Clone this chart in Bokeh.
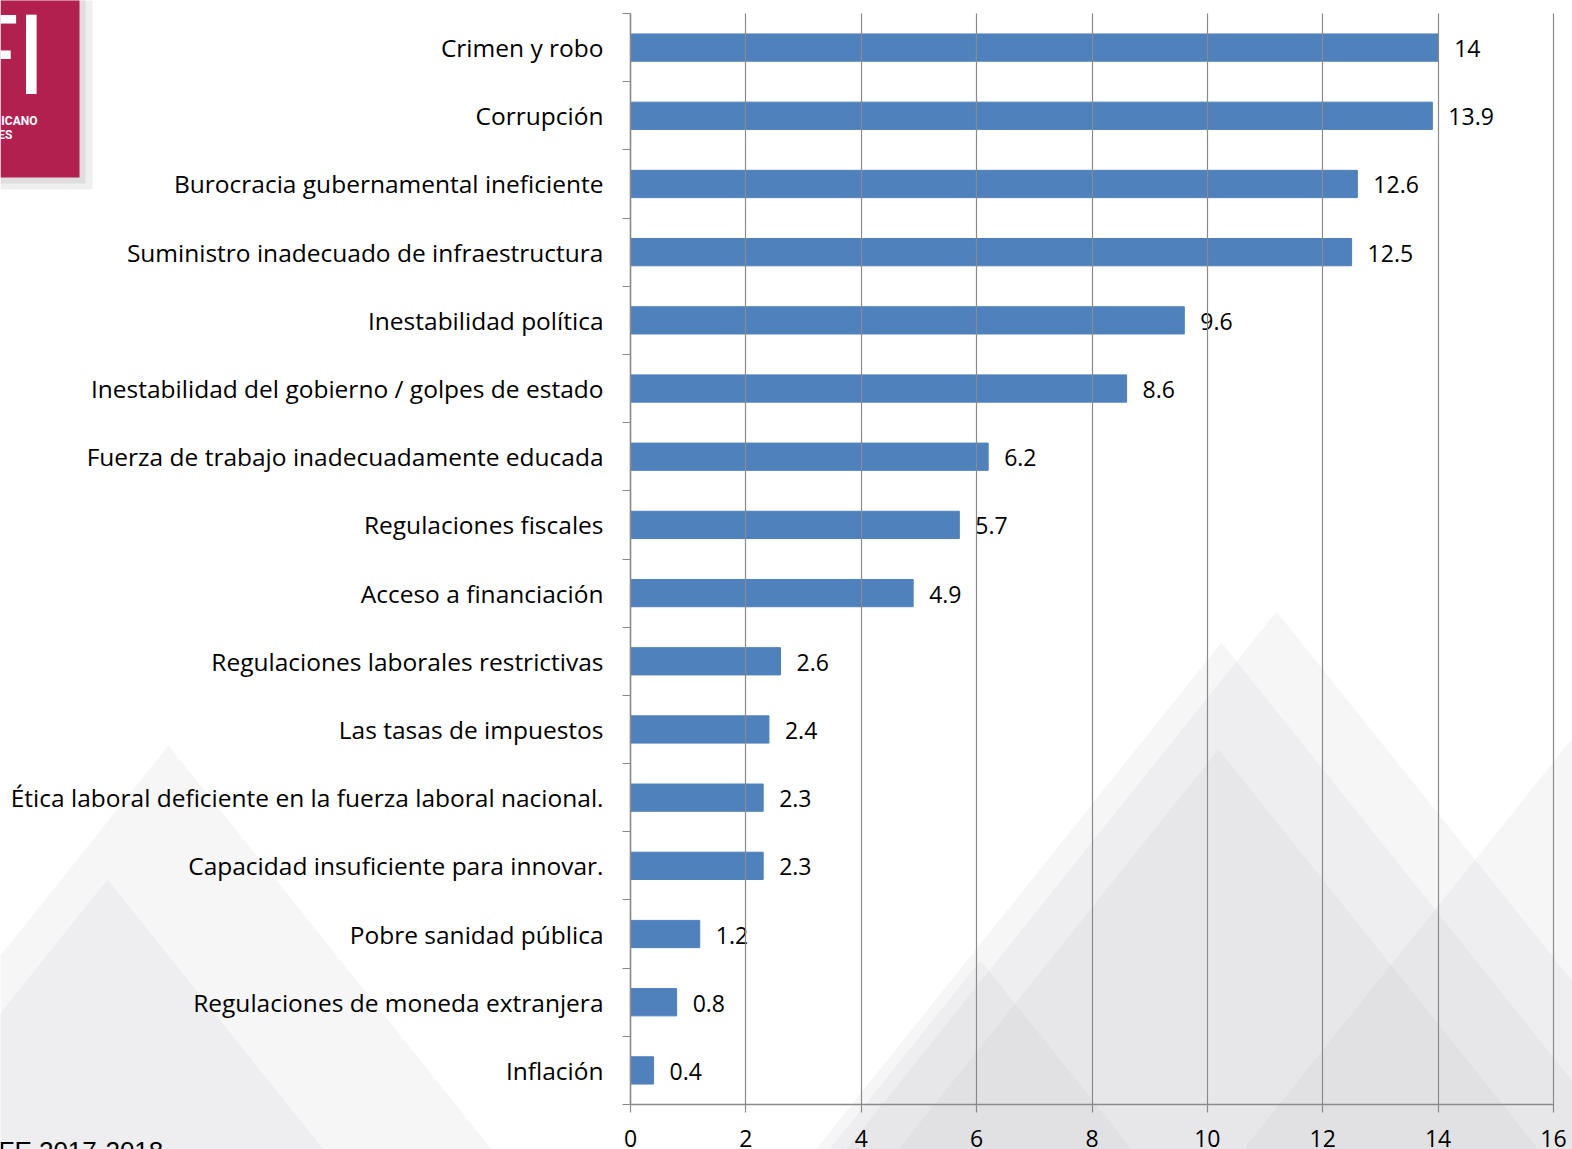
from bokeh.plotting import figure
from bokeh.models import (ColumnDataSource, FixedTicker, Label, BoxAnnotation,
                          PolyAnnotation, Range1d)
from bokeh.core.properties import value
from bokeh.embed import file_html
from bokeh.resources import INLINE

categories = [
    "Crimen y robo",
    "Corrupción",
    "Burocracia gubernamental ineficiente",
    "Suministro inadecuado de infraestructura",
    "Inestabilidad política",
    "Inestabilidad del gobierno / golpes de estado",
    "Fuerza de trabajo inadecuadamente educada",
    "Regulaciones fiscales",
    "Acceso a financiación",
    "Regulaciones laborales restrictivas",
    "Las tasas de impuestos",
    "Ética laboral deficiente en la fuerza laboral nacional.",
    "Capacidad insuficiente para innovar.",
    "Pobre sanidad pública",
    "Regulaciones de moneda extranjera",
    "Inflación",
]
values = [14, 13.9, 12.6, 12.5, 9.6, 8.6, 6.2, 5.7, 4.9, 2.6, 2.4, 2.3, 2.3, 1.2, 0.8, 0.4]
x_ticks = [0, 2, 4, 6, 8, 10, 12, 14, 16]
source_text = "FE 2017-2018"

n = len(categories)
ys = [n - i - 0.5 for i in range(n)]
src = ColumnDataSource(dict(y=ys, v=values, lbl=[f"{v:g}" for v in values]))

# page geometry (pixels): the data area spans 630..1553 horizontally, 13..1104 vertically
W, H = 1572, 1149
PX_L, PX_R, PX_T, PX_B = 630, 1553, 13, 1104
XMAX = x_ticks[-1]
ux = (PX_R - PX_L) / XMAX
uy = (PX_B - PX_T) / n
x_range = Range1d(-PX_L / ux, (W - PX_L) / ux)
y_range = Range1d(-(H - PX_B) / uy, n + PX_T / uy)

FONT = "Open Sans"
GRAY = "#8a8a8a"

p = figure(width=W, height=H, x_range=x_range, y_range=y_range, title=None,
           output_backend="svg", toolbar_location=None,
           min_border_left=0, min_border_right=0, min_border_top=0, min_border_bottom=0)
p.outline_line_color = None
p.background_fill_color = "white"
p.border_fill_color = "white"
p.xgrid.visible = False
p.ygrid.visible = False

# faint decorative backdrop: translucent grey "mountain" triangles (page pixels, peak x/y)
backdrop_peaks = [(168, 745), (107, 879), (1276, 611), (1221, 642), (1218, 749),
                  (1650, 640), (980, 960)]
for bx, by in backdrop_peaks:
    half = (H - by) * 0.8
    p.add_layout(PolyAnnotation(xs=[bx - half, bx, bx + half], ys=[0, H - by, 0],
                                xs_units="screen", ys_units="screen",
                                fill_color="#b4b4bc", fill_alpha=0.12,
                                line_color=None, level="underlay"))

# logo block (top-left corner, partly cut by the page edge)
for right, drop, col in [(92, 189, "#efefef"), (85, 183, "#dedede"), (79, 177, "#B2204F")]:
    p.add_layout(BoxAnnotation(left=0, right=right, bottom=H - drop, top=H + 5,
                               left_units="screen", right_units="screen",
                               top_units="screen", bottom_units="screen",
                               fill_color=col, fill_alpha=1.0, line_color=None))
for txt, lx in [("F", 19), ("I", 46)]:
    p.add_layout(Label(x=lx, y=H - 54.5, x_units="screen", y_units="screen", text=txt,
                       text_align="right", text_baseline="alphabetic", text_color="white",
                       text_font="Roboto", text_font_size="112px"))
p.add_layout(Label(x=37, y=H - 120, x_units="screen", y_units="screen", text="ICANO",
                   text_align="right", text_baseline="alphabetic", text_color="white",
                   text_font="Roboto", text_font_style="bold", text_font_size="12px"))
p.add_layout(Label(x=12, y=H - 134, x_units="screen", y_units="screen", text="ES",
                   text_align="right", text_baseline="alphabetic", text_color="white",
                   text_font="Roboto", text_font_style="bold", text_font_size="12px"))

# source note bottom-left (cut by the page bottom)
p.add_layout(Label(x=-2, y=-1, x_units="screen", y_units="screen", text=source_text,
                   text_align="left", text_baseline="alphabetic", text_color="black",
                   text_font="Liberation Sans", text_font_size="26px"))

# bars and value labels
p.hbar(y="y", left=0, right="v", height=0.4, color="#4F81BD", source=src)
p.text(x="v", y="y", text="lbl", x_offset=16, y_offset=1, text_baseline="middle",
       text_font=value(FONT), text_font_size="23px", text_color="black", source=src)

# x axis, fixed at the bottom of the category band; long inner ticks act as gridlines
p.xaxis.fixed_location = 0
p.xaxis.bounds = (0, XMAX)
p.xaxis.ticker = FixedTicker(ticks=x_ticks)
p.xaxis.axis_line_color = GRAY
p.xaxis.axis_line_width = 1.5
p.xaxis.major_tick_line_color = GRAY
p.xaxis.major_tick_line_width = 1.2
p.xaxis.major_tick_out = 8
p.xaxis.major_tick_in = PX_B - PX_T
p.xaxis.minor_tick_out = 0
p.xaxis.minor_tick_in = 0
p.xaxis.major_label_standoff = 17
p.xaxis.major_label_text_font = FONT
p.xaxis.major_label_text_font_size = "23px"
p.xaxis.major_label_text_color = "black"

# y axis, fixed at x = 0 with category labels and boundary ticks
p.yaxis.fixed_location = 0
p.yaxis.bounds = (0, n)
p.yaxis.ticker = FixedTicker(ticks=ys, minor_ticks=list(range(0, n + 1)))
p.yaxis.major_label_overrides = {y: c for y, c in zip(ys, categories)}
p.yaxis.major_tick_out = 0
p.yaxis.major_tick_in = 0
p.yaxis.minor_tick_out = 8
p.yaxis.minor_tick_in = 0
p.yaxis.minor_tick_line_color = GRAY
p.yaxis.minor_tick_line_width = 1.2
p.yaxis.axis_line_color = GRAY
p.yaxis.axis_line_width = 1.5
p.yaxis.major_label_standoff = 19
p.yaxis.major_label_text_font = FONT
p.yaxis.major_label_text_font_size = "24.5px"
p.yaxis.major_label_text_color = "black"

open("out.html", "w").write(file_html(p, INLINE))
